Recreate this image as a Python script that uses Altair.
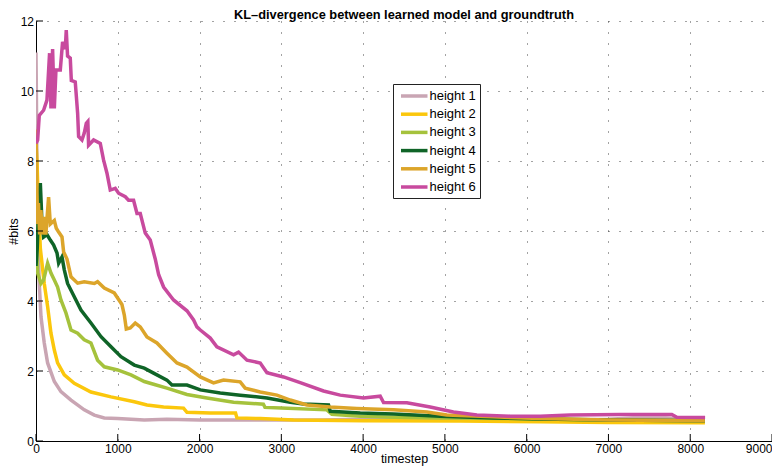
import altair as alt
import pandas as pd

series_names = ["height 1", "height 2", "height 3", "height 4", "height 5", "height 6"]
series_colors = ["#c9a5b3", "#fbc70c", "#a5c23c", "#0f6427", "#dca52a", "#c84a9e"]

h1_t = [0, 5, 15, 40, 61, 101, 142, 224, 305, 428, 590, 713, 835, 998, 1324, 1600, 2000, 2500, 3000, 3500, 4000, 4400, 4700, 5000, 5500, 6000, 6500, 7000, 7300, 7700, 8180]
h1_v = [11.1, 9.8, 6.5, 4.5, 3.55, 2.8, 2.23, 1.7, 1.41, 1.17, 0.89, 0.74, 0.66, 0.64, 0.6, 0.62, 0.6, 0.6, 0.6, 0.6, 0.62, 0.66, 0.66, 0.62, 0.62, 0.6, 0.6, 0.62, 0.66, 0.66, 0.6]

h2_t = [0, 12, 25, 53, 101, 142, 183, 224, 264, 346, 468, 672, 917, 1202, 1357, 1560, 1804, 1846, 2131, 2440, 2457, 2742, 3150, 4000, 5187, 6165, 7000, 8180]
h2_v = [8.5, 8.0, 7.0, 5.5, 4.5, 3.84, 3.08, 2.6, 2.23, 1.89, 1.65, 1.4, 1.26, 1.12, 1.03, 0.97, 0.94, 0.82, 0.8, 0.8, 0.66, 0.64, 0.6, 0.58, 0.57, 0.55, 0.53, 0.52]

h3_t = [0, 10, 20, 61, 93, 142, 183, 224, 264, 305, 366, 428, 509, 590, 672, 753, 835, 998, 1161, 1324, 1438, 1601, 1846, 2090, 2416, 2780, 2800, 3000, 3557, 3618, 3965, 4372, 4983, 6165, 7000, 8180]
h3_v = [7.3, 5.5, 4.8, 4.5, 4.6, 5.08, 4.8, 4.6, 4.4, 4.03, 3.66, 3.17, 3.08, 2.89, 2.8, 2.31, 2.12, 2.03, 1.89, 1.7, 1.62, 1.51, 1.33, 1.23, 1.11, 1.05, 0.96, 0.94, 0.89, 0.76, 0.71, 0.68, 0.66, 0.63, 0.6, 0.58]

h4_t = [0, 15, 30, 53, 73, 93, 134, 175, 216, 257, 277, 318, 346, 386, 468, 550, 672, 795, 917, 1039, 1202, 1324, 1438, 1601, 1663, 1846, 2009, 2253, 2497, 2824, 3109, 3271, 3577, 3598, 3965, 4372, 4943, 5595, 6165, 7000, 8180]
h4_v = [5.0, 5.5, 6.5, 7.37, 6.23, 5.83, 5.9, 5.74, 5.6, 5.37, 5.08, 5.26, 4.89, 4.5, 4.12, 3.74, 3.37, 2.98, 2.69, 2.41, 2.17, 2.08, 1.94, 1.74, 1.6, 1.6, 1.46, 1.37, 1.31, 1.23, 1.11, 1.06, 1.03, 0.85, 0.8, 0.77, 0.71, 0.66, 0.63, 0.6, 0.58]

h5_t = [0, 8, 20, 30, 45, 60, 80, 101, 120, 154, 175, 224, 248, 277, 318, 338, 379, 428, 509, 590, 713, 753, 835, 957, 1051, 1080, 1104, 1153, 1214, 1275, 1357, 1479, 1601, 1724, 1846, 2009, 2171, 2293, 2497, 2558, 2742, 2946, 3109, 3313, 3597, 3924, 4372, 4780, 5024, 5595, 6165, 7000, 8180]
h5_v = [8.9, 7.5, 6.2, 6.8, 5.9, 6.6, 5.9, 6.4, 5.9, 6.97, 6.2, 6.3, 6.08, 5.97, 5.83, 5.4, 5.2, 4.69, 4.51, 4.55, 4.5, 4.55, 4.37, 4.23, 3.9, 3.6, 3.2, 3.23, 3.37, 3.26, 2.97, 2.8, 2.51, 2.23, 2.11, 1.83, 1.66, 1.74, 1.69, 1.51, 1.4, 1.31, 1.17, 1.03, 0.97, 0.93, 0.89, 0.83, 0.74, 0.69, 0.64, 0.6, 0.58]

h6_t = [0, 20, 40, 93, 134, 166, 183, 203, 224, 244, 297, 325, 358, 370, 386, 419, 432, 480, 509, 521, 562, 590, 615, 634, 643, 704, 786, 826, 868, 908, 969, 1010, 1092, 1132, 1193, 1235, 1275, 1336, 1397, 1458, 1500, 1560, 1682, 1846, 1927, 1968, 2009, 2131, 2212, 2416, 2477, 2580, 2742, 2824, 3027, 3231, 3516, 3720, 4005, 4209, 4250, 4535, 4820, 5105, 5391, 5798, 6165, 6532, 7143, 7775, 7836, 8182]
h6_v = [8.5, 8.6, 9.3, 9.45, 9.74, 11.08, 9.5, 11.2, 9.5, 10.6, 10.6, 11.4, 11.2, 11.74, 11.0, 10.94, 10.3, 10.26, 9.37, 8.7, 8.6, 8.8, 9.08, 9.13, 8.45, 8.6, 8.5, 8.03, 7.65, 7.17, 7.22, 7.08, 6.98, 6.88, 6.88, 6.5, 6.5, 5.94, 5.74, 5.2, 4.75, 4.4, 4.03, 3.72, 3.46, 3.26, 3.17, 2.94, 2.69, 2.46, 2.54, 2.31, 2.23, 1.95, 1.83, 1.67, 1.43, 1.31, 1.23, 1.28, 1.1, 1.09, 0.97, 0.83, 0.74, 0.71, 0.71, 0.74, 0.76, 0.76, 0.68, 0.67]

x_ticks = [0, 1000, 2000, 3000, 4000, 5000, 6000, 7000, 8000, 9000]
y_ticks = [0, 2, 4, 6, 8, 10, 12]

all_t = [h1_t, h2_t, h3_t, h4_t, h5_t, h6_t]
all_v = [h1_v, h2_v, h3_v, h4_v, h5_v, h6_v]
rows = []
for name, ts, vs in zip(series_names, all_t, all_v):
    for i, (t, v) in enumerate(zip(ts, vs)):
        rows.append({"series": name, "timestep": t, "bits": v, "idx": i})
df = pd.DataFrame(rows)

FONT = "Liberation Sans"
W, H = 736, 420

xscale = alt.Scale(domain=[0, 9000], nice=False, zero=False)
yscale = alt.Scale(domain=[0, 12], nice=False, zero=False)

lines = alt.Chart(df).mark_line(strokeWidth=3.5, clip=True).encode(
    x=alt.X("timestep:Q", scale=xscale, title="timestep",
            axis=alt.Axis(values=x_ticks, format="d", tickSize=0, labelPadding=2,
                          labelFlush=False,
                          labelAlign={"condition": {"test": "datum.value >= 9000", "value": "right"},
                                      "value": "center"},
                          titlePadding=-2, grid=True)),
    y=alt.Y("bits:Q", scale=yscale, title="#bits",
            axis=alt.Axis(values=y_ticks, tickSize=0, labelPadding=2.5,
                          labelFlush=False, titlePadding=0, grid=True)),
    color=alt.Color("series:N",
                    scale=alt.Scale(domain=series_names, range=series_colors),
                    legend=alt.Legend(title=None, orient="none", legendX=357, legendY=63)),
    order="idx:Q",
    detail="series:N",
)

xt = alt.Chart(pd.DataFrame({"t": x_ticks})).mark_rule(color="black", strokeWidth=1).encode(
    x=alt.X("t:Q", scale=xscale), y=alt.value(H), y2=alt.value(H - 7))
yt = alt.Chart(pd.DataFrame({"v": y_ticks})).mark_rule(color="black", strokeWidth=1).encode(
    y=alt.Y("v:Q", scale=yscale), x=alt.value(0), x2=alt.value(7))

chart = alt.layer(lines, xt, yt).properties(
    width=W, height=H,
    title=alt.Title("KL\u2013divergence between learned model and groundtruth",
                    font=FONT, fontSize=12.8, fontWeight="bold", color="black",
                    anchor="middle", offset=-7),
    autosize=alt.AutoSizeParams(type="none"),
    padding={"left": 28, "top": 13, "right": 0, "bottom": 31},
).configure_view(stroke=None).configure_axis(
    labelFont=FONT, labelFontSize=12, labelColor="black",
    titleFont=FONT, titleFontSize=12.5, titleColor="black", titleFontWeight="normal",
    domainColor="black", domainWidth=1,
    gridColor="#333333", gridDash=[1, 10], gridOpacity=0.9, gridWidth=1,
).configure_legend(
    labelFont=FONT, labelFontSize=13, labelColor="black",
    strokeColor="#222222", fillColor="white", padding=4,
    symbolType="M-0.67,0H3.75", symbolSize=144, symbolStrokeWidth=3.5,
    labelOffset=16.5, rowPadding=3.2,
)

chart.save("out.html", embed_options={"renderer": "svg", "actions": False})
